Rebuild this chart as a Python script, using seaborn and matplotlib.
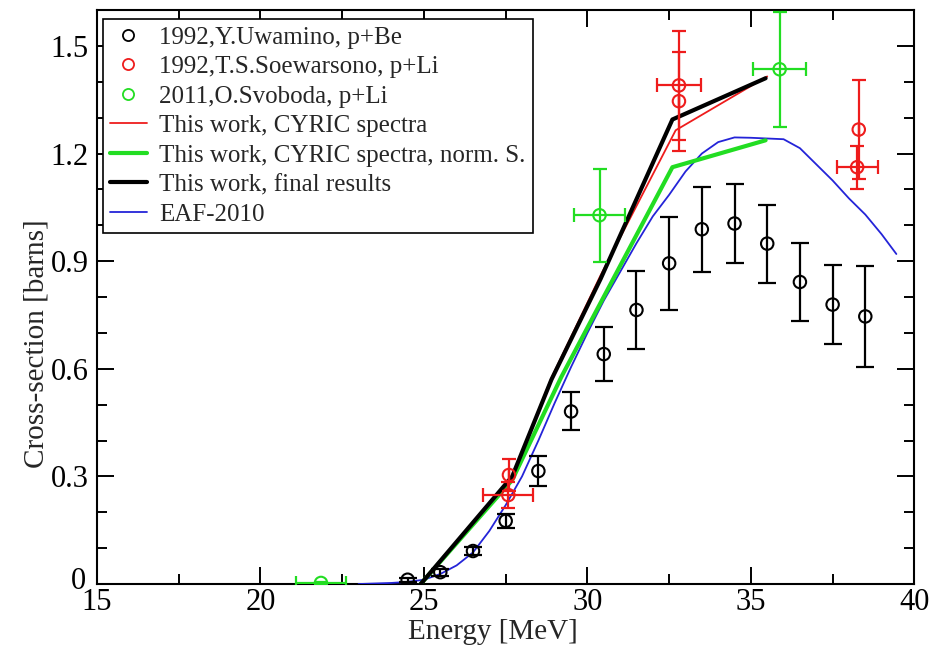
import matplotlib
matplotlib.use("Agg")
import matplotlib.pyplot as plt
from matplotlib.lines import Line2D
from matplotlib.ticker import MultipleLocator
from matplotlib.transforms import ScaledTranslation
import seaborn as sns
import pandas as pd

# --- experimental data: 1992, Y.Uwamino, p+Be ---
uwa_energy = [24.5, 25.5, 26.5, 27.5, 28.5, 29.5, 30.5, 31.5, 32.5, 33.5, 34.5, 35.5, 36.5, 37.5, 38.5]
uwa_xs = [0.012, 0.033, 0.092, 0.176, 0.315, 0.481, 0.641, 0.764, 0.894, 0.989, 1.005, 0.949, 0.842, 0.779, 0.746]
uwa_err = [0.006, 0.01, 0.012, 0.02, 0.041, 0.053, 0.076, 0.11, 0.13, 0.118, 0.109, 0.109, 0.11, 0.11, 0.14]

# --- 1992, T.S.Soewarsono, p+Li ---
soe_energy = [27.58, 27.6, 32.8, 32.8, 38.25, 38.3]
soe_xs = [0.248, 0.304, 1.39, 1.346, 1.162, 1.267]
soe_xerr = [0.77, 0.0, 0.67, 0.0, 0.63, 0.0]
soe_yerr = [0.037, 0.045, 0.153, 0.138, 0.06, 0.137]

# --- 2011, O.Svoboda, p+Li ---
svo_energy = [21.85, 30.37, 35.88]
svo_xs = [0.003, 1.028, 1.435]
svo_xerr = [0.76, 0.78, 0.82]
svo_yerr = [0.004, 0.13, 0.16]

# --- this work ---
cyric_energy = [24.9, 27.7, 28.9, 30.4, 32.7, 35.5]
cyric_xs = [0.0, 0.30, 0.575, 0.86, 1.265, 1.415]
norm_energy = [24.9, 27.7, 29.2, 32.6, 35.45]
norm_xs = [0.0, 0.29, 0.577, 1.162, 1.237]
final_energy = [24.9, 27.7, 28.9, 30.4, 32.6, 35.45]
final_xs = [0.0, 0.30, 0.57, 0.85, 1.295, 1.41]

# --- EAF-2010 evaluation ---
eaf_energy = [23.0, 24.0, 24.5, 25.0, 25.5, 26.0, 26.5, 27.0, 27.5, 28.0, 28.5, 29.0, 29.5,
              30.0, 30.5, 31.0, 31.5, 32.0, 32.5, 33.0, 33.5, 34.0, 34.5, 35.0, 35.5, 36.0,
              36.5, 37.0, 37.5, 38.0, 38.5, 39.0, 39.45]
eaf_xs = [0.0, 0.003, 0.006, 0.012, 0.028, 0.052, 0.088, 0.148, 0.22, 0.30, 0.40, 0.505, 0.605,
          0.70, 0.79, 0.87, 0.95, 1.025, 1.085, 1.15, 1.20, 1.232, 1.245, 1.244, 1.242, 1.24,
          1.215, 1.17, 1.125, 1.075, 1.03, 0.975, 0.92]

x_ticks = [15, 20, 25, 30, 35, 40]
y_ticks = [0, 0.3, 0.6, 0.9, 1.2, 1.5]
y_tick_labels = ["0", "0.3", "0.6", "0.9", "1.2", "1.5"]

RED = "#ee1c1c"
GREEN = "#22dd22"
BLUE = "#2424d8"

sns.set_style("ticks")
plt.rcParams["font.family"] = ["Liberation Serif", "DejaVu Serif"]

fig = plt.figure(figsize=(9.33, 6.5), dpi=100)
ax = fig.add_axes([0.104, 0.1015, 0.876, 0.883])

# model curves
curves = [
    (eaf_energy, eaf_xs, BLUE, 1.3),
    (norm_energy, norm_xs, GREEN, 3.0),
    (cyric_energy, cyric_xs, RED, 1.3),
    (final_energy, final_xs, "black", 3.0),
]
for e, xs, c, lw in curves:
    sns.lineplot(x=e, y=xs, ax=ax, color=c, linewidth=lw, sort=False,
                 estimator=None, legend=False, zorder=3)

# error bars
ax.errorbar(uwa_energy, uwa_xs, yerr=uwa_err, fmt="none", ecolor="black",
            elinewidth=1.6, capsize=6.5, capthick=1.6, zorder=4)
ax.errorbar(soe_energy, soe_xs, xerr=soe_xerr, yerr=soe_yerr, fmt="none", ecolor=RED,
            elinewidth=1.6, capsize=5, capthick=1.6, zorder=4)
ax.errorbar(svo_energy, svo_xs, xerr=svo_xerr, yerr=svo_yerr, fmt="none", ecolor=GREEN,
            elinewidth=1.6, capsize=5, capthick=1.6, zorder=4)

# experimental points (open circles)
for e, xs, c in [(uwa_energy, uwa_xs, "black"), (soe_energy, soe_xs, RED), (svo_energy, svo_xs, GREEN)]:
    df = pd.DataFrame({"E": e, "xs": xs})
    sns.scatterplot(data=df, x="E", y="xs", ax=ax, marker="o", s=80,
                    facecolor="none", edgecolor=c, linewidth=1.5, zorder=5, legend=False)

ax.set_xlim(15, 40)
ax.set_ylim(0, 1.6)
ax.set_xticks(x_ticks)
ax.set_yticks(y_ticks)
ax.set_yticklabels(y_tick_labels)
ax.xaxis.set_minor_locator(MultipleLocator(2.5))
ax.yaxis.set_minor_locator(MultipleLocator(0.1))
ax.tick_params(which="both", direction="in", top=True, right=True, width=1.4,
               labelsize=22, colors="black")
ax.tick_params(which="major", length=12)
ax.tick_params(which="minor", length=7)
ax.tick_params(axis="x", pad=3)
ax.tick_params(axis="y", pad=6)
for sp in ax.spines.values():
    sp.set_visible(True)
    sp.set_linewidth(1.5)
    sp.set_color("black")

# lift the "0" on the y axis a little so it clears the "15" below it
zero_label = ax.get_yticklabels()[0]
zero_label.set_transform(zero_label.get_transform()
                         + ScaledTranslation(-2 / 72, 4.5 / 72, fig.dpi_scale_trans))

ax.set_xlabel("Energy [MeV]", fontsize=21)
ax.set_ylabel("Cross-section [barns]", fontsize=21)
ax.xaxis.set_label_coords(0.484, -0.061)
ax.yaxis.set_label_coords(-0.058, 0.418)

handles = [
    Line2D([], [], linestyle="none", marker="o", markersize=8, markerfacecolor="none",
           markeredgecolor="black", markeredgewidth=1.3),
    Line2D([], [], linestyle="none", marker="o", markersize=8, markerfacecolor="none",
           markeredgecolor=RED, markeredgewidth=1.3),
    Line2D([], [], linestyle="none", marker="o", markersize=8, markerfacecolor="none",
           markeredgecolor=GREEN, markeredgewidth=1.3),
    Line2D([], [], color=RED, linewidth=1.3),
    Line2D([], [], color=GREEN, linewidth=3.0),
    Line2D([], [], color="black", linewidth=3.0),
    Line2D([], [], color=BLUE, linewidth=1.3),
]
labels = [
    "1992,Y.Uwamino, p+Be",
    "1992,T.S.Soewarsono, p+Li",
    "2011,O.Svoboda, p+Li",
    "This work, CYRIC spectra",
    "This work, CYRIC spectra, norm. S.",
    "This work, final results",
    "EAF-2010",
]
leg = ax.legend(handles, labels, loc="upper left", bbox_to_anchor=(0.007, 0.985),
                borderaxespad=0, fontsize=18, frameon=True, fancybox=False,
                edgecolor="black", framealpha=1, handlelength=1.45, handletextpad=0.5,
                labelspacing=0.28, borderpad=0.3)
leg.get_frame().set_linewidth(1.2)

fig.savefig("out.png", dpi=100)
